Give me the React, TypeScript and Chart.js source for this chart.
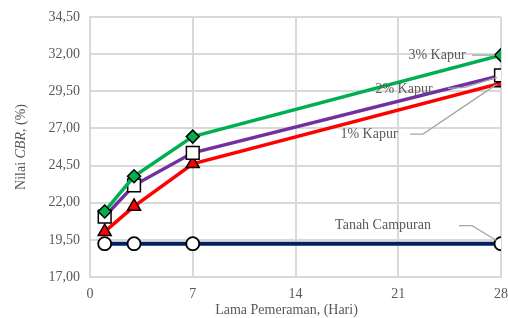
import React, { useEffect, useRef } from "react";
import { Chart, registerables } from "chart.js";

Chart.register(...registerables);

const days = [1, 3, 7, 28];
const kapur3 = [21.41, 23.78, 26.45, 31.93];
const kapur2 = [21.07, 23.17, 25.36, 30.57];
const kapur1 = [20.05, 21.75, 24.62, 30.05];
const tanahCampuran = [19.24, 19.24, 19.24, 19.24];
const seriesNames = ["3% Kapur", "2% Kapur", "1% Kapur", "Tanah Campuran"];
const xTicks = [0, 7, 14, 21, 28];

const FONT = "'Liberation Serif', 'Times New Roman', serif";
const TXT = "#595959";
const GRID = "#d9d9d9";
const FS = 14;

const pts = (ys: number[]) => days.map((d, i) => ({ x: d, y: ys[i] }));

// label annotations: text offset from the last point of each series, leader path offsets
const labelDefs = [
  { ds: 0, text: seriesNames[0], tdx: -64, tdy: 0, path: [[-29, 0], [-6, 0]] },
  { ds: 1, text: seriesNames[1], tdx: -97, tdy: 14, path: [[-53, 13], [-36, 12], [-4, 2]] },
  { ds: 2, text: seriesNames[2], tdx: -132, tdy: 51, path: [[-91, 51], [-78, 51], [-4, 1]] },
  { ds: 3, text: seriesNames[3], tdx: -118, tdy: -18, path: [[-42, -18], [-29, -18], [-4, -3]] },
];

const annotPlugin = {
  id: "annot",
  afterDatasetsDraw(chart: any) {
    const ctx = chart.ctx;
    const xs = chart.scales.x;
    const ys = chart.scales.y;
    const ca = chart.chartArea;
    ctx.save();
    ctx.font = `${FS}px ${FONT}`;
    ctx.fillStyle = TXT;
    ctx.textAlign = "center";
    ctx.textBaseline = "middle";
    for (const l of labelDefs) {
      const data = chart.data.datasets[l.ds].data;
      const last = data[data.length - 1];
      const px = xs.getPixelForValue(last.x);
      const py = ys.getPixelForValue(last.y);
      ctx.strokeStyle = "#a6a6a6";
      ctx.lineWidth = 1.3;
      ctx.beginPath();
      l.path.forEach((p, i) => {
        if (i === 0) ctx.moveTo(px + p[0], py + p[1]);
        else ctx.lineTo(px + p[0], py + p[1]);
      });
      ctx.stroke();
      ctx.fillText(l.text, px + l.tdx, py + l.tdy);
    }
    // axis titles
    ctx.font = `${FS}px ${FONT}`;
    ctx.fillText("Lama Pemeraman, (Hari)", (ca.left + ca.right) / 2 - 9, 310);
    ctx.translate(21, (ca.top + ca.bottom) / 2);
    ctx.rotate(-Math.PI / 2);
    const parts: [string, boolean][] = [["Nilai ", false], ["CBR", true], [", (%)", false]];
    let total = 0;
    for (const [t, it] of parts) {
      ctx.font = `${it ? "italic " : ""}${FS}px ${FONT}`;
      total += ctx.measureText(t).width;
    }
    let x = -total / 2;
    ctx.textAlign = "left";
    for (const [t, it] of parts) {
      ctx.font = `${it ? "italic " : ""}${FS}px ${FONT}`;
      ctx.fillText(t, x, 0);
      x += ctx.measureText(t).width;
    }
    ctx.restore();
  },
};

export default function App() {
  const ref = useRef<HTMLCanvasElement>(null);
  useEffect(() => {
    const chart = new Chart(ref.current as HTMLCanvasElement, {
      type: "line",
      data: {
        datasets: [
          {
            label: seriesNames[0],
            data: pts(kapur3),
            borderColor: "#00b050",
            borderWidth: 3.5,
            pointStyle: "rectRot",
            pointRadius: 6.5,
            pointBackgroundColor: "#00b050",
            pointBorderColor: "#000",
            pointBorderWidth: 1.5,
          },
          {
            label: seriesNames[1],
            data: pts(kapur2),
            borderColor: "#7030a0",
            borderWidth: 3.5,
            pointStyle: "rect",
            pointRadius: 9,
            pointBackgroundColor: "#fff",
            pointBorderColor: "#000",
            pointBorderWidth: 1.5,
          },
          {
            label: seriesNames[2],
            data: pts(kapur1),
            borderColor: "#ff0000",
            borderWidth: 3.5,
            pointStyle: "triangle",
            pointRadius: 7.5,
            pointBackgroundColor: "#ff0000",
            pointBorderColor: "#000",
            pointBorderWidth: 1.5,
          },
          {
            label: seriesNames[3],
            data: pts(tanahCampuran),
            borderColor: "#002060",
            borderWidth: 4,
            pointStyle: "circle",
            pointRadius: 6.5,
            pointBackgroundColor: "#fff",
            pointBorderColor: "#000",
            pointBorderWidth: 1.8,
          },
        ],
      },
      options: {
        animation: false,
        responsive: false,
        events: [],
        layout: { padding: { left: 0, right: 7, top: 17, bottom: 0 }, autoPadding: false },
        plugins: { legend: { display: false }, tooltip: { enabled: false } },
        scales: {
          x: {
            type: "linear",
            min: 0,
            max: 28,
            afterBuildTicks: (s: any) => {
              s.ticks = xTicks.map((v) => ({ value: v }));
            },
            afterFit: (s: any) => {
              s.height = 41;
              s.paddingLeft = 0;
              s.paddingRight = 0;
            },
            ticks: { color: TXT, font: { family: FONT, size: FS }, padding: 9 },
            grid: { color: GRID, lineWidth: 2, drawTicks: false },
            border: { color: GRID, width: 2 },
          },
          y: {
            min: 17,
            max: 34.5,
            afterFit: (s: any) => {
              s.width = 90;
              s.paddingTop = 0;
              s.paddingBottom = 0;
            },
            ticks: {
              stepSize: 2.5,
              color: TXT,
              font: { family: FONT, size: FS },
              padding: 10,
              callback: (v: any) => Number(v).toFixed(2).replace(".", ","),
            },
            grid: { color: GRID, lineWidth: 2, drawTicks: false },
            border: { color: GRID, width: 2 },
          },
        },
      },
      plugins: [annotPlugin],
    } as any);
    return () => chart.destroy();
  }, []);
  return (
    <div style={{ position: "absolute", left: 0, top: 0, width: 508, height: 318, background: "#fff" }}>
      <canvas ref={ref} width={508} height={318} style={{ width: 508, height: 318 }} />
    </div>
  );
}
